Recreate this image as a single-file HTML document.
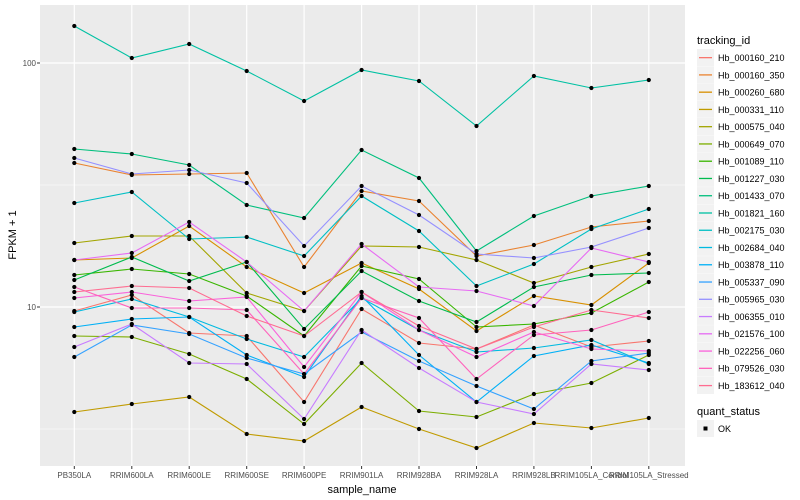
<!DOCTYPE html>
<html><head><meta charset="utf-8"><style>
body{margin:0;background:#fff;}
svg{display:block;font-family:"Liberation Sans",sans-serif;}
</style></head><body>
<svg width="800" height="500" viewBox="0 0 800 500">
<defs><marker id="p" markerUnits="userSpaceOnUse" markerWidth="6" markerHeight="6" refX="3" refY="3"><circle cx="3" cy="3" r="2.1" fill="#000"/></marker></defs>
<rect x="40" y="5" width="645" height="461" fill="#EBEBEB"/>
<g stroke="#fff" stroke-width="0.6"><line x1="40" x2="685" y1="185" y2="185"/><line x1="40" x2="685" y1="429" y2="429"/></g>
<g stroke="#fff" stroke-width="1.2">
<line x1="40" x2="685" y1="63" y2="63"/><line x1="40" x2="685" y1="307" y2="307"/>
<line x1="74.3" x2="74.3" y1="5" y2="466"/><line x1="131.8" x2="131.8" y1="5" y2="466"/><line x1="189.2" x2="189.2" y1="5" y2="466"/><line x1="246.7" x2="246.7" y1="5" y2="466"/><line x1="304.1" x2="304.1" y1="5" y2="466"/><line x1="361.6" x2="361.6" y1="5" y2="466"/><line x1="419" x2="419" y1="5" y2="466"/><line x1="476.5" x2="476.5" y1="5" y2="466"/><line x1="533.9" x2="533.9" y1="5" y2="466"/><line x1="591.4" x2="591.4" y1="5" y2="466"/><line x1="648.8" x2="648.8" y1="5" y2="466"/>
</g>
<g fill="none" stroke-width="1.1" marker-start="url(#p)" marker-mid="url(#p)" marker-end="url(#p)">
<polyline stroke="#F8766D" points="74.3,311 131.8,295 189.2,333 246.7,336 304.1,402 361.6,309 419,343 476.5,349 533.9,325 591.4,347 648.8,341"/>
<polyline stroke="#EA8331" points="74.3,163 131.8,175 189.2,174 246.7,173 304.1,267 361.6,191 419,201 476.5,256 533.9,245 591.4,227 648.8,221"/>
<polyline stroke="#D89000" points="74.3,260 131.8,258 189.2,226 246.7,267 304.1,293 361.6,263 419,289 476.5,331 533.9,296 591.4,305 648.8,263"/>
<polyline stroke="#C09B00" points="74.3,412 131.8,404 189.2,397 246.7,434 304.1,441 361.6,407 419,429 476.5,448 533.9,423 591.4,428 648.8,418"/>
<polyline stroke="#A3A500" points="74.3,243 131.8,236 189.2,236 246.7,293 304.1,311 361.6,246 419,247 476.5,260 533.9,283 591.4,267 648.8,254"/>
<polyline stroke="#7CAE00" points="74.3,336 131.8,337 189.2,354 246.7,379 304.1,424 361.6,363 419,411 476.5,417 533.9,394 591.4,383 648.8,355"/>
<polyline stroke="#39B600" points="74.3,275 131.8,269 189.2,274 246.7,296 304.1,336 361.6,266 419,279 476.5,327 533.9,324 591.4,313 648.8,282"/>
<polyline stroke="#00BB4E" points="74.3,280 131.8,257 189.2,281 246.7,262 304.1,329 361.6,271 419,301 476.5,322 533.9,287 591.4,275 648.8,273"/>
<polyline stroke="#00BF7D" points="74.3,149 131.8,154 189.2,165 246.7,205 304.1,218 361.6,150 419,178 476.5,251 533.9,216 591.4,196 648.8,186"/>
<polyline stroke="#00C1A3" points="74.3,26 131.8,58 189.2,44 246.7,71 304.1,101 361.6,70 419,81 476.5,126 533.9,76 591.4,88 648.8,80"/>
<polyline stroke="#00BFC4" points="74.3,203 131.8,192 189.2,239 246.7,237 304.1,256 361.6,196 419,231 476.5,286 533.9,264 591.4,229 648.8,209"/>
<polyline stroke="#00BAE0" points="74.3,312 131.8,299 189.2,317 246.7,339 304.1,357 361.6,298 419,330 476.5,352 533.9,348 591.4,340 648.8,364"/>
<polyline stroke="#00B0F6" points="74.3,327 131.8,319 189.2,317 246.7,355 304.1,377 361.6,296 419,355 476.5,402 533.9,356 591.4,345 648.8,363"/>
<polyline stroke="#35A2FF" points="74.3,357 131.8,325 189.2,334 246.7,358 304.1,374 361.6,332 419,361 476.5,386 533.9,409 591.4,361 648.8,353"/>
<polyline stroke="#9590FF" points="74.3,158 131.8,174 189.2,170 246.7,183 304.1,246 361.6,186 419,215 476.5,254 533.9,258 591.4,247 648.8,228"/>
<polyline stroke="#C77CFF" points="74.3,347 131.8,324 189.2,363 246.7,364 304.1,419 361.6,330 419,368 476.5,402 533.9,414 591.4,364 648.8,370"/>
<polyline stroke="#E76BF3" points="74.3,260 131.8,253 189.2,222 246.7,262 304.1,311 361.6,244 419,287 476.5,291 533.9,306 591.4,248 648.8,262"/>
<polyline stroke="#FA62DB" points="74.3,298 131.8,292 189.2,301 246.7,297 304.1,367 361.6,292 419,330 476.5,357 533.9,332 591.4,349 648.8,351"/>
<polyline stroke="#FF62BC" points="74.3,287 131.8,308 189.2,308 246.7,310 304.1,374 361.6,298 419,318 476.5,379 533.9,335 591.4,330 648.8,312"/>
<polyline stroke="#FF6C91" points="74.3,292 131.8,286 189.2,288 246.7,316 304.1,336 361.6,292 419,326 476.5,349 533.9,327 591.4,310 648.8,318"/>
</g>
<g stroke="#333" stroke-width="1"><line x1="37" x2="40" y1="63" y2="63"/><line x1="37" x2="40" y1="307" y2="307"/></g>
<g font-size="8" fill="#4D4D4D" text-anchor="end"><text x="36" y="66">100</text><text x="36" y="310">10</text></g>
<g stroke="#333"><line x1="74.3" x2="74.3" y1="466" y2="469"/><line x1="131.8" x2="131.8" y1="466" y2="469"/><line x1="189.2" x2="189.2" y1="466" y2="469"/><line x1="246.7" x2="246.7" y1="466" y2="469"/><line x1="304.1" x2="304.1" y1="466" y2="469"/><line x1="361.6" x2="361.6" y1="466" y2="469"/><line x1="419" x2="419" y1="466" y2="469"/><line x1="476.5" x2="476.5" y1="466" y2="469"/><line x1="533.9" x2="533.9" y1="466" y2="469"/><line x1="591.4" x2="591.4" y1="466" y2="469"/><line x1="648.8" x2="648.8" y1="466" y2="469"/></g>
<g font-size="8" fill="#4D4D4D" text-anchor="middle">
<text x="74.3" y="478">PB350LA</text><text x="131.8" y="478">RRIM600LA</text><text x="189.2" y="478">RRIM600LE</text><text x="246.7" y="478">RRIM600SE</text><text x="304.1" y="478">RRIM600PE</text><text x="361.6" y="478">RRIM901LA</text><text x="419" y="478">RRIM928BA</text><text x="476.5" y="478">RRIM928LA</text><text x="533.9" y="478">RRIM928LB</text><text x="591.4" y="478">RRIM105LA_Control</text><text x="648.8" y="478">RRIM105LA_Stressed</text>
</g>
<text x="362" y="493" font-size="11" text-anchor="middle" fill="#000">sample_name</text>
<text transform="translate(16,235) rotate(-90)" font-size="11" text-anchor="middle" fill="#000">FPKM + 1</text>
<text x="697" y="44" font-size="11" fill="#000">tracking_id</text>
<g font-size="9" fill="#000">
<g transform="translate(0,0)"><rect x="697" y="49" width="17" height="17" fill="#F2F2F2"/><rect x="699" y="57" width="13" height="1.3" fill="#F8766D"/><text x="718" y="61">Hb_000160_210</text></g>
<g transform="translate(0,17.26)"><rect x="697" y="49" width="17" height="17" fill="#F2F2F2"/><rect x="699" y="57" width="13" height="1.3" fill="#EA8331"/><text x="718" y="61">Hb_000160_350</text></g>
<g transform="translate(0,34.52)"><rect x="697" y="49" width="17" height="17" fill="#F2F2F2"/><rect x="699" y="57" width="13" height="1.3" fill="#D89000"/><text x="718" y="61">Hb_000260_680</text></g>
<g transform="translate(0,51.78)"><rect x="697" y="49" width="17" height="17" fill="#F2F2F2"/><rect x="699" y="57" width="13" height="1.3" fill="#C09B00"/><text x="718" y="61">Hb_000331_110</text></g>
<g transform="translate(0,69.04)"><rect x="697" y="49" width="17" height="17" fill="#F2F2F2"/><rect x="699" y="57" width="13" height="1.3" fill="#A3A500"/><text x="718" y="61">Hb_000575_040</text></g>
<g transform="translate(0,86.3)"><rect x="697" y="49" width="17" height="17" fill="#F2F2F2"/><rect x="699" y="57" width="13" height="1.3" fill="#7CAE00"/><text x="718" y="61">Hb_000649_070</text></g>
<g transform="translate(0,103.56)"><rect x="697" y="49" width="17" height="17" fill="#F2F2F2"/><rect x="699" y="57" width="13" height="1.3" fill="#39B600"/><text x="718" y="61">Hb_001089_110</text></g>
<g transform="translate(0,120.82)"><rect x="697" y="49" width="17" height="17" fill="#F2F2F2"/><rect x="699" y="57" width="13" height="1.3" fill="#00BB4E"/><text x="718" y="61">Hb_001227_030</text></g>
<g transform="translate(0,138.08)"><rect x="697" y="49" width="17" height="17" fill="#F2F2F2"/><rect x="699" y="57" width="13" height="1.3" fill="#00BF7D"/><text x="718" y="61">Hb_001433_070</text></g>
<g transform="translate(0,155.34)"><rect x="697" y="49" width="17" height="17" fill="#F2F2F2"/><rect x="699" y="57" width="13" height="1.3" fill="#00C1A3"/><text x="718" y="61">Hb_001821_160</text></g>
<g transform="translate(0,172.6)"><rect x="697" y="49" width="17" height="17" fill="#F2F2F2"/><rect x="699" y="57" width="13" height="1.3" fill="#00BFC4"/><text x="718" y="61">Hb_002175_030</text></g>
<g transform="translate(0,189.86)"><rect x="697" y="49" width="17" height="17" fill="#F2F2F2"/><rect x="699" y="57" width="13" height="1.3" fill="#00BAE0"/><text x="718" y="61">Hb_002684_040</text></g>
<g transform="translate(0,207.12)"><rect x="697" y="49" width="17" height="17" fill="#F2F2F2"/><rect x="699" y="57" width="13" height="1.3" fill="#00B0F6"/><text x="718" y="61">Hb_003878_110</text></g>
<g transform="translate(0,224.38)"><rect x="697" y="49" width="17" height="17" fill="#F2F2F2"/><rect x="699" y="57" width="13" height="1.3" fill="#35A2FF"/><text x="718" y="61">Hb_005337_090</text></g>
<g transform="translate(0,241.64)"><rect x="697" y="49" width="17" height="17" fill="#F2F2F2"/><rect x="699" y="57" width="13" height="1.3" fill="#9590FF"/><text x="718" y="61">Hb_005965_030</text></g>
<g transform="translate(0,258.9)"><rect x="697" y="49" width="17" height="17" fill="#F2F2F2"/><rect x="699" y="57" width="13" height="1.3" fill="#C77CFF"/><text x="718" y="61">Hb_006355_010</text></g>
<g transform="translate(0,276.16)"><rect x="697" y="49" width="17" height="17" fill="#F2F2F2"/><rect x="699" y="57" width="13" height="1.3" fill="#E76BF3"/><text x="718" y="61">Hb_021576_100</text></g>
<g transform="translate(0,293.42)"><rect x="697" y="49" width="17" height="17" fill="#F2F2F2"/><rect x="699" y="57" width="13" height="1.3" fill="#FA62DB"/><text x="718" y="61">Hb_022256_060</text></g>
<g transform="translate(0,310.68)"><rect x="697" y="49" width="17" height="17" fill="#F2F2F2"/><rect x="699" y="57" width="13" height="1.3" fill="#FF62BC"/><text x="718" y="61">Hb_079526_030</text></g>
<g transform="translate(0,327.94)"><rect x="697" y="49" width="17" height="17" fill="#F2F2F2"/><rect x="699" y="57" width="13" height="1.3" fill="#FF6C91"/><text x="718" y="61">Hb_183612_040</text></g>
</g>
<text x="697" y="415" font-size="11" fill="#000">quant_status</text>
<rect x="697" y="420" width="17" height="17" fill="#F2F2F2"/><rect x="703.5" y="426.5" width="4" height="4" fill="#000"/>
<text x="718" y="432" font-size="9" fill="#000">OK</text>
</svg>
</body></html>
